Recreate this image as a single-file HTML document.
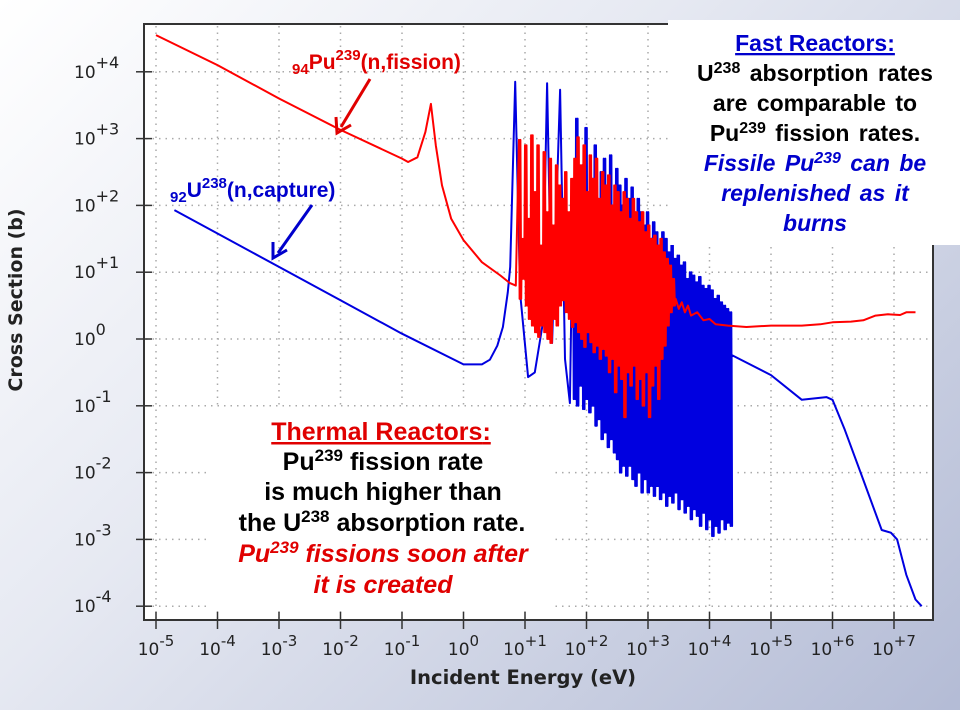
<!DOCTYPE html>
<html><head><meta charset="utf-8">
<style>
html,body{margin:0;padding:0;}
body{width:960px;height:720px;overflow:hidden;background:linear-gradient(135deg,#ffffff 0%,#e6e9f2 40%,#b3bbd5 100%);position:relative;font-family:"Liberation Sans",sans-serif;}
svg{position:absolute;left:0;top:0;}
.ann{font-family:"Liberation Sans",sans-serif;font-weight:bold;}
.tick{font-family:"DejaVu Sans",sans-serif;font-size:17px;fill:#222;}
</style></head>
<body>
<svg width="960" height="720">
  <rect x="0" y="710" width="960" height="10" fill="#fff"/>
  <rect x="144" y="24" width="789" height="596" fill="#fff" stroke="#333" stroke-width="2"/>
  <g id="grid"></g>
  <rect x="210" y="407" width="345" height="204" fill="#fff"/>
  <g id="series"></g>
  <g id="axes"></g>
  <text x="22" y="300" transform="rotate(-90 22 300)" text-anchor="middle" font-family="DejaVu Sans, sans-serif" font-weight="bold" font-size="19" fill="#222">Cross Section (b)</text>
  <text x="523" y="684" text-anchor="middle" font-family="DejaVu Sans, sans-serif" font-weight="bold" font-size="19.5" fill="#222">Incident Energy (eV)</text>

  <text class="ann" x="292" y="69" fill="#e00000" font-size="21"><tspan font-size="15" dy="5">94</tspan><tspan dy="-5">Pu</tspan><tspan font-size="15" dy="-9">239</tspan><tspan dy="9">(n,fission)</tspan></text>
  <line x1="370" y1="79" x2="341" y2="127" stroke="#e00000" stroke-width="3"/>
  <polyline points="336,117 337,133 351,125" fill="none" stroke="#e00000" stroke-width="3"/>
  <text class="ann" x="170" y="197" fill="#0000cc" font-size="21"><tspan font-size="15" dy="5">92</tspan><tspan dy="-5">U</tspan><tspan font-size="15" dy="-9">238</tspan><tspan dy="9">(n,capture)</tspan></text>
  <line x1="312" y1="205" x2="278" y2="253" stroke="#0000cc" stroke-width="3"/>
  <polyline points="273,242 273,258 287,250" fill="none" stroke="#0000cc" stroke-width="3"/>

  <g class="ann" font-size="25" text-anchor="middle">
    <text x="381" y="440" fill="#e00000" text-decoration="underline">Thermal Reactors<tspan fill="#e00000" text-decoration="none">:</tspan></text>
    <text x="383" y="470" fill="#000">Pu<tspan font-size="17" dy="-9">239</tspan><tspan dy="9"> fission rate</tspan></text>
    <text x="383" y="500" fill="#000">is much higher than</text>
    <text x="382" y="531" fill="#000">the U<tspan font-size="17" dy="-9">238</tspan><tspan dy="9"> absorption rate.</tspan></text>
    <text x="383" y="562" fill="#e00000" font-style="italic">Pu<tspan font-size="17" dy="-9">239</tspan><tspan dy="9"> fissions soon after</tspan></text>
    <text x="383" y="593" fill="#e00000" font-style="italic">it is created</text>
  </g>

  <rect x="668" y="20" width="292" height="225" fill="#fff"/>
  <g class="ann" font-size="23" text-anchor="middle">
    <text x="815" y="51" fill="#0000cc" text-decoration="underline">Fast Reactors:</text>
    <text x="815" y="81" fill="#000" word-spacing="3">U<tspan font-size="16" dy="-8">238</tspan><tspan dy="8"> absorption rates</tspan></text>
    <text x="815" y="111" fill="#000" word-spacing="3">are comparable to</text>
    <text x="815" y="141" fill="#000" word-spacing="3">Pu<tspan font-size="16" dy="-8">239</tspan><tspan dy="8"> fission rates.</tspan></text>
    <text x="815" y="171" fill="#0000cc" font-style="italic" word-spacing="3">Fissile Pu<tspan font-size="16" dy="-8">239</tspan><tspan dy="8"> can be</tspan></text>
    <text x="815" y="201" fill="#0000cc" font-style="italic" word-spacing="3">replenished as it</text>
    <text x="815" y="231" fill="#0000cc" font-style="italic">burns</text>
  </g>
</svg>
<script>
// ---- data (log10 energy, log10 cross section) ----
const xTickExp = [-5,-4,-3,-2,-1,0,1,2,3,4,5,6,7];
const xTickLabels = ["-5","-4","-3","-2","-1","0","+1","+2","+3","+4","+5","+6","+7"];
const yTickExp = [4,3,2,1,0,-1,-2,-3,-4];
const yTickLabels = ["+4","+3","+2","+1","0","-1","-2","-3","-4"];

const puLowE = [-5,-4,-3,-2,-1,-0.9,-0.75,-0.62,-0.53,-0.45,-0.35,-0.2,0,0.3,0.6,0.75,0.85];
const puLowS = [4.55,4.1,3.6,3.13,2.7,2.65,2.72,3.1,3.52,2.9,2.3,1.8,1.48,1.15,0.95,0.84,0.8];
const puResE = [0.90,0.95,1.00,1.05,1.10,1.15,1.20,1.25,1.30,1.35,1.40,1.45,1.50,1.55,1.60,1.65,1.70,1.75,1.80,1.85,1.90,1.95,2.00,2.05,2.10,2.15,2.20,2.25,2.30,2.35,2.40,2.45,2.50,2.55,2.60,2.65,2.70,2.75,2.80,2.85,2.90,2.95,3.00,3.05,3.10,3.15,3.20,3.25,3.30,3.35,3.40];
const puResHi = [2.98,1.5,2.9,1.8,3.05,2.2,2.9,1.4,2.8,1.9,2.7,1.7,2.6,2.3,2.1,2.5,1.9,2.4,2.7,3.02,2.6,2.9,2.2,2.75,2.4,2.7,2.1,2.5,2.3,2.45,2.0,2.3,2.2,1.9,2.2,2.1,1.8,2.1,1.9,1.75,1.9,1.6,1.7,1.5,1.55,1.4,1.5,1.3,1.2,1.1,0.9];
const puResLo = [0.6,0.9,0.5,0.3,0.2,0.1,0.03,0.2,0.1,0.0,-0.06,0.3,0.2,0.5,0.58,0.4,0.3,0.18,0.25,0.1,0.0,-0.12,0.1,-0.05,-0.2,-0.1,-0.3,-0.15,-0.25,-0.5,-0.3,-0.8,-0.4,-0.6,-1.17,-0.5,-0.7,-0.4,-0.9,-0.6,-1.0,-0.5,-1.17,-0.7,-0.4,-0.9,-0.3,-0.1,0.2,0.4,0.5];
const puHighE = [3.45,3.5,3.55,3.6,3.65,3.7,3.8,3.9,4.0,4.1,4.3,4.6,5.0,5.5,5.8,6.0,6.3,6.5,6.7,6.9,7.1,7.2,7.35];
const puHighS = [0.6,0.45,0.55,0.4,0.5,0.35,0.4,0.28,0.3,0.22,0.2,0.18,0.2,0.2,0.22,0.25,0.26,0.28,0.35,0.37,0.36,0.4,0.4];

const uLowE = [-4.7,-4,-3,-2,-1,0,0.3,0.43,0.55,0.64,0.72,0.76,0.84,0.92,1.05,1.16,1.28,1.36,1.44,1.57,1.65,1.73];
const uLowS = [1.93,1.58,1.08,0.58,0.08,-0.38,-0.38,-0.31,-0.1,0.18,0.7,1.08,3.85,0.69,-0.57,-0.5,0.18,3.83,-0.06,3.73,-0.3,-0.96];
const uResE = [1.78,1.83,1.88,1.93,1.98,2.03,2.08,2.13,2.18,2.23,2.28,2.33,2.38,2.43,2.48,2.53,2.58,2.63,2.68,2.73,2.78,2.83,2.88,2.93,2.98,3.03,3.08,3.13,3.18,3.23,3.28,3.33,3.38,3.43,3.48,3.53,3.58,3.63,3.68,3.73,3.78,3.83,3.88,3.93,3.98,4.03,4.08,4.13,4.18,4.23,4.28,4.33];
const uResHi = [2.1,3.3,1.6,2.6,3.16,1.9,2.4,2.9,1.8,2.5,2.7,2.2,2.75,1.9,2.55,2.3,2.0,2.4,2.1,2.27,1.8,2.1,1.9,1.7,1.9,1.5,1.75,1.6,1.4,1.6,1.5,1.3,1.45,1.2,1.25,1.1,1.15,0.9,1.0,0.95,0.85,0.93,0.8,0.75,0.8,0.73,0.6,0.65,0.55,0.5,0.45,0.4];
const uResLo = [-0.9,-1.0,-0.7,-1.05,-0.9,-1.1,-1.0,-1.3,-1.2,-1.5,-1.4,-1.62,-1.5,-1.7,-1.8,-2.0,-1.9,-2.05,-1.9,-2.1,-2.2,-2.0,-2.3,-2.1,-2.3,-2.2,-2.35,-2.2,-2.4,-2.3,-2.5,-2.35,-2.45,-2.3,-2.55,-2.4,-2.6,-2.5,-2.7,-2.55,-2.65,-2.8,-2.6,-2.85,-2.7,-2.95,-2.8,-2.9,-2.7,-2.85,-2.75,-2.8];
const uHighE = [4.36,5.0,5.5,5.9,6.0,6.2,6.5,6.8,6.95,7.05,7.2,7.35,7.45];
const uHighS = [-0.24,-0.54,-0.91,-0.87,-0.91,-1.36,-2.11,-2.86,-2.9,-3.0,-3.53,-3.9,-4.0];

// ---- axis functions ----
const X0 = 156, DX = 61.5, Y0 = 339, DY = 66.8;
function xs(e){ return X0 + (e + 5) * DX; }
function ys(s){ return Y0 - s * DY; }
const NS = "http://www.w3.org/2000/svg";
function mk(tag, attrs, parent){
  const el = document.createElementNS(NS, tag);
  for (const k in attrs) el.setAttribute(k, attrs[k]);
  parent.appendChild(el);
  return el;
}
const grid = document.getElementById('grid');
const axes = document.getElementById('axes');
const series = document.getElementById('series');

xTickExp.forEach((e, i) => {
  const x = xs(e);
  const gl = mk('line', {x1:x, y1:26, x2:x, y2:618, stroke:'#aaa', 'stroke-width':1.5, 'stroke-dasharray':'1.5 5'}, grid);
  
  
  const tk = mk('line', {x1:x, y1:612, x2:x, y2:629, stroke:'#333', 'stroke-width':1.5}, axes);
  
  
  const t = mk('text', {x:x, y:655, 'text-anchor':'middle', class:'tick'}, axes);
  
  
  const a = mk('tspan', {}, t); a.textContent = '10';
  const b = mk('tspan', {dy:-9, 'font-size':15}, t); b.textContent = xTickLabels[i];
});
yTickExp.forEach((s, i) => {
  const y = ys(s);
  const gl = mk('line', {x1:146, y1:y, x2:931, y2:y, stroke:'#aaa', 'stroke-width':1.5, 'stroke-dasharray':'1.5 5'}, grid);
  
  
  const tk = mk('line', {x1:136, y1:y, x2:152, y2:y, stroke:'#333', 'stroke-width':1.5}, axes);
  
  
  const t = mk('text', {x:74, y:y + 6, class:'tick'}, axes);
  
  
  const a = mk('tspan', {}, t); a.textContent = '10';
  const b = mk('tspan', {dy:-10, 'font-size':16}, t); b.textContent = yTickLabels[i];
});

function buildPts(lowE, lowS, resE, resHi, resLo, highE, highS){
  const pts = [];
  lowE.forEach((e, i) => pts.push(xs(e).toFixed(1) + ',' + ys(lowS[i]).toFixed(1)));
  resE.forEach((e, i) => {
    pts.push(xs(e).toFixed(1) + ',' + ys(resHi[i]).toFixed(1));
    pts.push(xs(e + 0.0125).toFixed(1) + ',' + ys(resLo[i]).toFixed(1));
    pts.push(xs(e + 0.025).toFixed(1) + ',' + ys(resHi[i]).toFixed(1));
    pts.push(xs(e + 0.0375).toFixed(1) + ',' + ys(resLo[i]).toFixed(1));
  });
  highE.forEach((e, i) => pts.push(xs(e).toFixed(1) + ',' + ys(highS[i]).toFixed(1)));
  return pts.join(' ');
}
const u = mk('polyline', {points: buildPts(uLowE,uLowS,uResE,uResHi,uResLo,uHighE,uHighS), fill:'none', stroke:'#0000e0', 'stroke-width':2, 'stroke-linejoin':'round'}, series);


const p = mk('polyline', {points: buildPts(puLowE,puLowS,puResE,puResHi,puResLo,puHighE,puHighS), fill:'none', stroke:'#ff0000', 'stroke-width':2, 'stroke-linejoin':'round'}, series);


</script>
</body></html>
